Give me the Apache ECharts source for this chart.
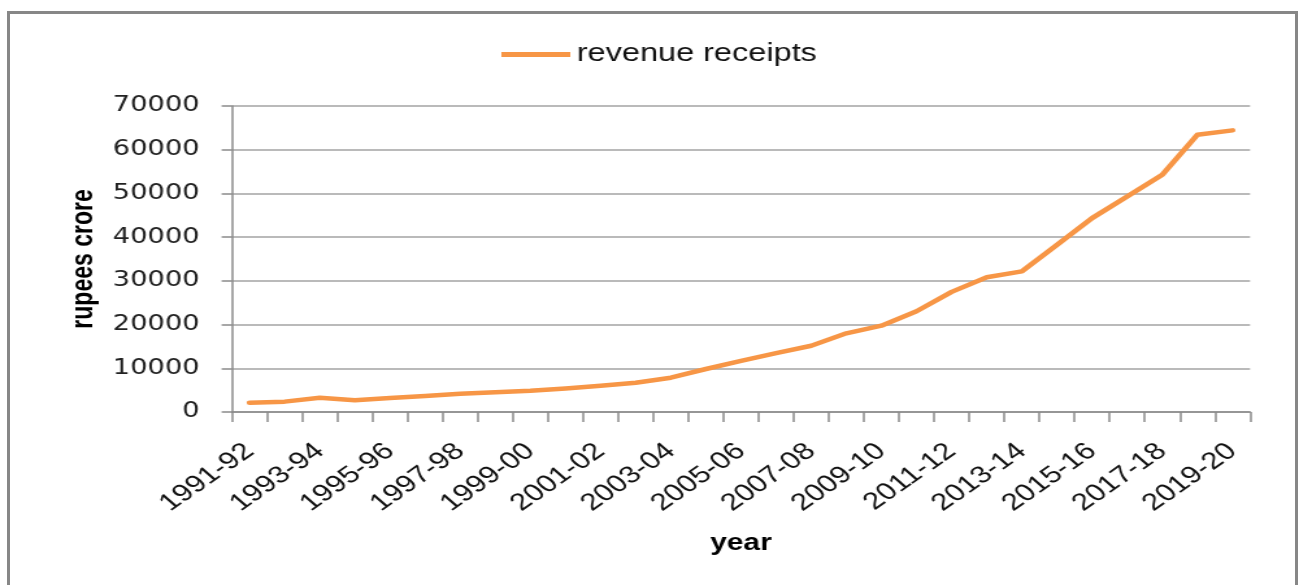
<!DOCTYPE html>
<html>
<head>
<meta charset="utf-8">
<title>Revenue receipts</title>
<script src="https://cdn.jsdelivr.net/npm/echarts@6/dist/echarts.min.js"></script>
<style>
  html, body { margin: 0; padding: 0; background: #ffffff; overflow: hidden; }
  #frame {
    position: absolute; left: 7px; top: 11px; width: 1291px; height: 620px;
    box-sizing: border-box; border: 3px solid #878787; pointer-events: none;
  }
  /* chart is laid out narrower and widened horizontally */
  #chart {
    position: absolute; left: 0; top: 0; width: 1000px; height: 585px;
    transform: scaleX(1.299); transform-origin: 0 0;
  }
</style>
</head>
<body>
<div id="chart"></div>
<div id="frame"></div>
<script>
// fiscal years
const years = [
  '1991-92', '1992-93', '1993-94', '1994-95', '1995-96', '1996-97', '1997-98',
  '1998-99', '1999-00', '2000-01', '2001-02', '2002-03', '2003-04', '2004-05',
  '2005-06', '2006-07', '2007-08', '2008-09', '2009-10', '2010-11', '2011-12',
  '2012-13', '2013-14', '2014-15', '2015-16', '2016-17', '2017-18', '2018-19',
  '2019-20'
];

// revenue receipts, rupees crore
const revenueReceipts = [
  2140, 2370, 3280, 2670, 3200, 3660, 4200,
  4540, 4850, 5380, 6000, 6690, 7840, 9840,
  11700, 13480, 15150, 18000, 19750, 23050, 27480,
  30840, 32180, 38240, 44350, 49310, 54270, 63430,
  64430
];

// value axis ticks
const yTicks = [0, 10000, 20000, 30000, 40000, 50000, 60000, 70000];

const chart = echarts.init(document.getElementById('chart'), null, { renderer: 'canvas' });

chart.setOption({
  backgroundColor: '#ffffff',
  animation: false,
  legend: {
    data: ['revenue receipts'],
    left: 381,
    top: 37,
    icon: 'rect',
    itemWidth: 53,
    itemHeight: 5,
    itemGap: 10,
    textStyle: { fontFamily: 'Liberation Sans', fontSize: 25, color: '#111111' }
  },
  grid: { left: 178.6, right: 37.7, top: 106, bottom: 173, containLabel: false },
  xAxis: {
    type: 'category',
    data: years,
    boundaryGap: true,
    name: 'year',
    nameLocation: 'middle',
    nameGap: 120,
    nameTextStyle: { fontFamily: 'Liberation Sans', fontWeight: 'bold', fontSize: 23, color: '#000000' },
    axisLine: { lineStyle: { color: '#8a8a8a', width: 1.5 } },
    axisTick: { show: true, interval: 0, length: 10, lineStyle: { color: '#8a8a8a', width: 1.5 } },
    axisLabel: {
      interval: 1,
      rotate: 42,
      margin: 36,
      fontFamily: 'Liberation Sans',
      fontSize: 24,
      color: '#111111'
    },
    splitLine: { show: false }
  },
  yAxis: {
    type: 'value',
    min: yTicks[0],
    max: yTicks[yTicks.length - 1],
    interval: yTicks[1] - yTicks[0],
    name: 'rupees crore',
    nameLocation: 'middle',
    nameRotate: 90,
    nameGap: 101,
    nameTextStyle: { fontFamily: 'Liberation Sans', fontWeight: 'bold', fontSize: 23, color: '#000000' },
    axisLine: { show: true, lineStyle: { color: '#8a8a8a', width: 1.5 } },
    axisTick: { show: true, length: 8, lineStyle: { color: '#8a8a8a', width: 1.5 } },
    axisLabel: {
      margin: 25,
      formatter: (v) => String(v),
      fontFamily: 'DejaVu Sans',
      fontSize: 21,
      color: '#222222'
    },
    splitLine: { show: true, lineStyle: { color: '#a3a3a3', width: 1.5 } }
  },
  series: [{
    name: 'revenue receipts',
    type: 'line',
    data: revenueReceipts,
    smooth: false,
    showSymbol: false,
    symbol: 'none',
    color: '#F79646',
    lineStyle: { color: '#F79646', width: 4.5, join: 'round', cap: 'round' }
  }]
});
</script>
</body>
</html>
